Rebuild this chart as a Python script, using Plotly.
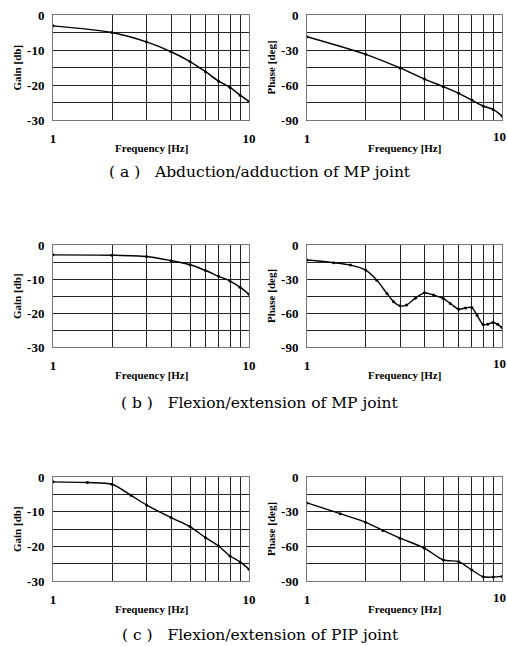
import plotly.graph_objects as go

# ---------------- data ----------------
freq_a = [1, 2, 3, 4, 5, 6, 7, 8, 9, 10]
gain_a = [-3.1, -5.0, -7.7, -10.5, -13.3, -16.2, -18.9, -20.7, -22.9, -24.7]
phase_a = [-18.6, -33.7, -45.4, -54.9, -61.4, -67.1, -72.9, -78.0, -80.9, -86.6]

freq_b_gain = [1, 2, 3, 4, 5, 6, 7, 8, 9, 10]
gain_b = [-2.9, -3.0, -3.4, -4.6, -5.8, -7.5, -9.2, -10.6, -12.4, -14.5]

freq_b_phase = [1, 1.37, 1.67, 2, 2.28, 2.57, 2.78, 3, 3.24, 3.59, 4, 4.46, 5,
                5.43, 6, 6.5, 7, 7.45, 8, 8.45, 9, 9.5, 10]
phase_b = [-13.3, -15.6, -17.7, -22.1, -31.0, -42.8, -50.0, -53.7, -53.0, -47.0,
           -42.2, -44.2, -47.2, -51.6, -56.6, -55.5, -55.2, -62.0, -70.2, -69.9,
           -68.4, -70.0, -72.9]

freq_c_gain = [1, 1.5, 2, 2.5, 3, 4, 5, 6, 7, 8, 9, 10]
gain_c = [-1.4, -1.6, -2.1, -5.3, -8.1, -11.7, -14.3, -17.5, -19.9, -22.8, -24.5, -26.6]

freq_c_phase = [1, 1.48, 2, 2.45, 3, 4, 5, 6, 7, 8, 9, 10]
phase_c = [-22.4, -31.7, -39.2, -46.2, -52.9, -61.6, -71.8, -73.3, -80.5, -86.3, -86.6, -86.0]

x_tickvals = [1, 2, 3, 4, 5, 6, 7, 8, 9, 10]
x_ticktext = ["1", "", "", "", "", "", "", "", "", "10"]
gain_tickvals = [-30, -25, -20, -15, -10, -5, 0]
gain_ticktext = ["-30", "", "-20", "", "-10", "", "0"]
phase_tickvals = [-90, -75, -60, -45, -30, -15, 0]
phase_ticktext = ["-90", "", "-60", "", "-30", "", "0"]

NB = "\u00a0"
captions = [f"({NB}a{NB}){NB}{NB}{NB}Abduction/adduction of MP joint",
            f"({NB}b{NB}){NB}{NB}{NB}Flexion/extension of MP joint",
            f"({NB}c{NB}){NB}{NB}{NB}Flexion/extension of PIP joint"]

# ---------------- layout geometry (page px) ----------------
W, H = 507, 646


def fx_(px):
    return px / W


def fy_(py):
    return 1 - py / H


gain_x = (53, 249)
phase_x = (307, 502)
rows_y = [(15, 120), (245, 347), (477, 581)]
caption_y = [172, 403, 635]

panels = [
    (freq_a, gain_a, "gain", 0), (freq_a, phase_a, "phase", 0),
    (freq_b_gain, gain_b, "gain", 1), (freq_b_phase, phase_b, "phase", 1),
    (freq_c_gain, gain_c, "gain", 2), (freq_c_phase, phase_c, "phase", 2),
]

fig = go.Figure()
annotations = []
tick_font = dict(family="Liberation Serif", size=13, color="black", weight="bold")
title_font = dict(family="Liberation Serif", size=11, color="black")

for i, (fx, fy, kind, row) in enumerate(panels):
    n = i + 1
    xname = "xaxis" if n == 1 else f"xaxis{n}"
    yname = "yaxis" if n == 1 else f"yaxis{n}"
    xref = "x" if n == 1 else f"x{n}"
    yref = "y" if n == 1 else f"y{n}"
    px = gain_x if kind == "gain" else phase_x
    py = rows_y[row]
    fig.add_trace(go.Scatter(
        x=fx, y=fy, mode="lines+markers", xaxis=xref, yaxis=yref,
        line=dict(color="black", width=1.4, shape="spline", smoothing=0.8),
        marker=dict(color="black", size=3), showlegend=False,
        hoverinfo="x+y"))
    xt = list(x_ticktext)
    if kind == "phase":
        # last label sits at the page edge: drawn as an annotation, right-aligned
        xt[-1] = ""
        annotations.append(dict(
            text="<b>" + x_ticktext[-1] + "</b>", x=fx_(507), y=fy_(py[1] + 16),
            xref="paper", yref="paper", showarrow=False, borderpad=0,
            xanchor="right", yanchor="middle", font=tick_font))
    fig.update_layout({
        xname: dict(
            type="log", range=[0, 1], domain=[fx_(px[0]), fx_(px[1])],
            anchor=yref, tickvals=x_tickvals, ticktext=xt,
            showgrid=True, gridcolor="#222", gridwidth=1,
            showline=True, linecolor="#777", linewidth=1, mirror=True,
            ticks="outside", ticklen=6, tickcolor="rgba(0,0,0,0)",
            tickfont=tick_font, zeroline=False, fixedrange=True,
            automargin=False, ticklabeloverflow="allow"),
        yname: dict(
            range=[-30, 0] if kind == "gain" else [-90, 0],
            domain=[fy_(py[1]), fy_(py[0])], anchor=xref,
            tickvals=gain_tickvals if kind == "gain" else phase_tickvals,
            ticktext=gain_ticktext if kind == "gain" else phase_ticktext,
            showgrid=True, gridcolor="#222", gridwidth=1,
            showline=True, linecolor="#777", linewidth=1, mirror=True,
            ticks="outside", ticklen=5, tickcolor="rgba(0,0,0,0)",
            tickfont=tick_font, zeroline=False, fixedrange=True,
            automargin=False, ticklabeloverflow="allow"),
    })
    # axis titles
    cx = (px[0] + px[1]) / 2
    annotations.append(dict(
        text="<b>Frequency [Hz]</b>", x=fx_(cx), y=fy_(py[1] + 28),
        xref="paper", yref="paper", showarrow=False, font=title_font,
        xanchor="center", yanchor="middle"))
    annotations.append(dict(
        text="<b>Gain [db]</b>" if kind == "gain" else "<b>Phase [deg]</b>",
        x=fx_(px[0] - 36), y=fy_((py[0] + py[1]) / 2),
        xref="paper", yref="paper", showarrow=False, font=title_font,
        textangle=-90, xanchor="center", yanchor="middle"))

for cap, cy in zip(captions, caption_y):
    annotations.append(dict(
        text=cap, x=fx_(260), y=fy_(cy), xref="paper", yref="paper",
        showarrow=False, xanchor="center", yanchor="middle",
        font=dict(family="DejaVu Serif", size=15.5, color="black")))

fig.update_layout(
    width=W, height=H,
    margin=dict(l=0, r=0, t=0, b=0, pad=0, autoexpand=False),
    paper_bgcolor="white", plot_bgcolor="white",
    annotations=annotations, showlegend=False,
    font=dict(family="Liberation Serif", color="black"),
)

fig.write_html("out.html",
               config={"displayModeBar": False},
               post_script="document.body.style.margin='0';"
                           "document.documentElement.style.overflow='hidden';")
